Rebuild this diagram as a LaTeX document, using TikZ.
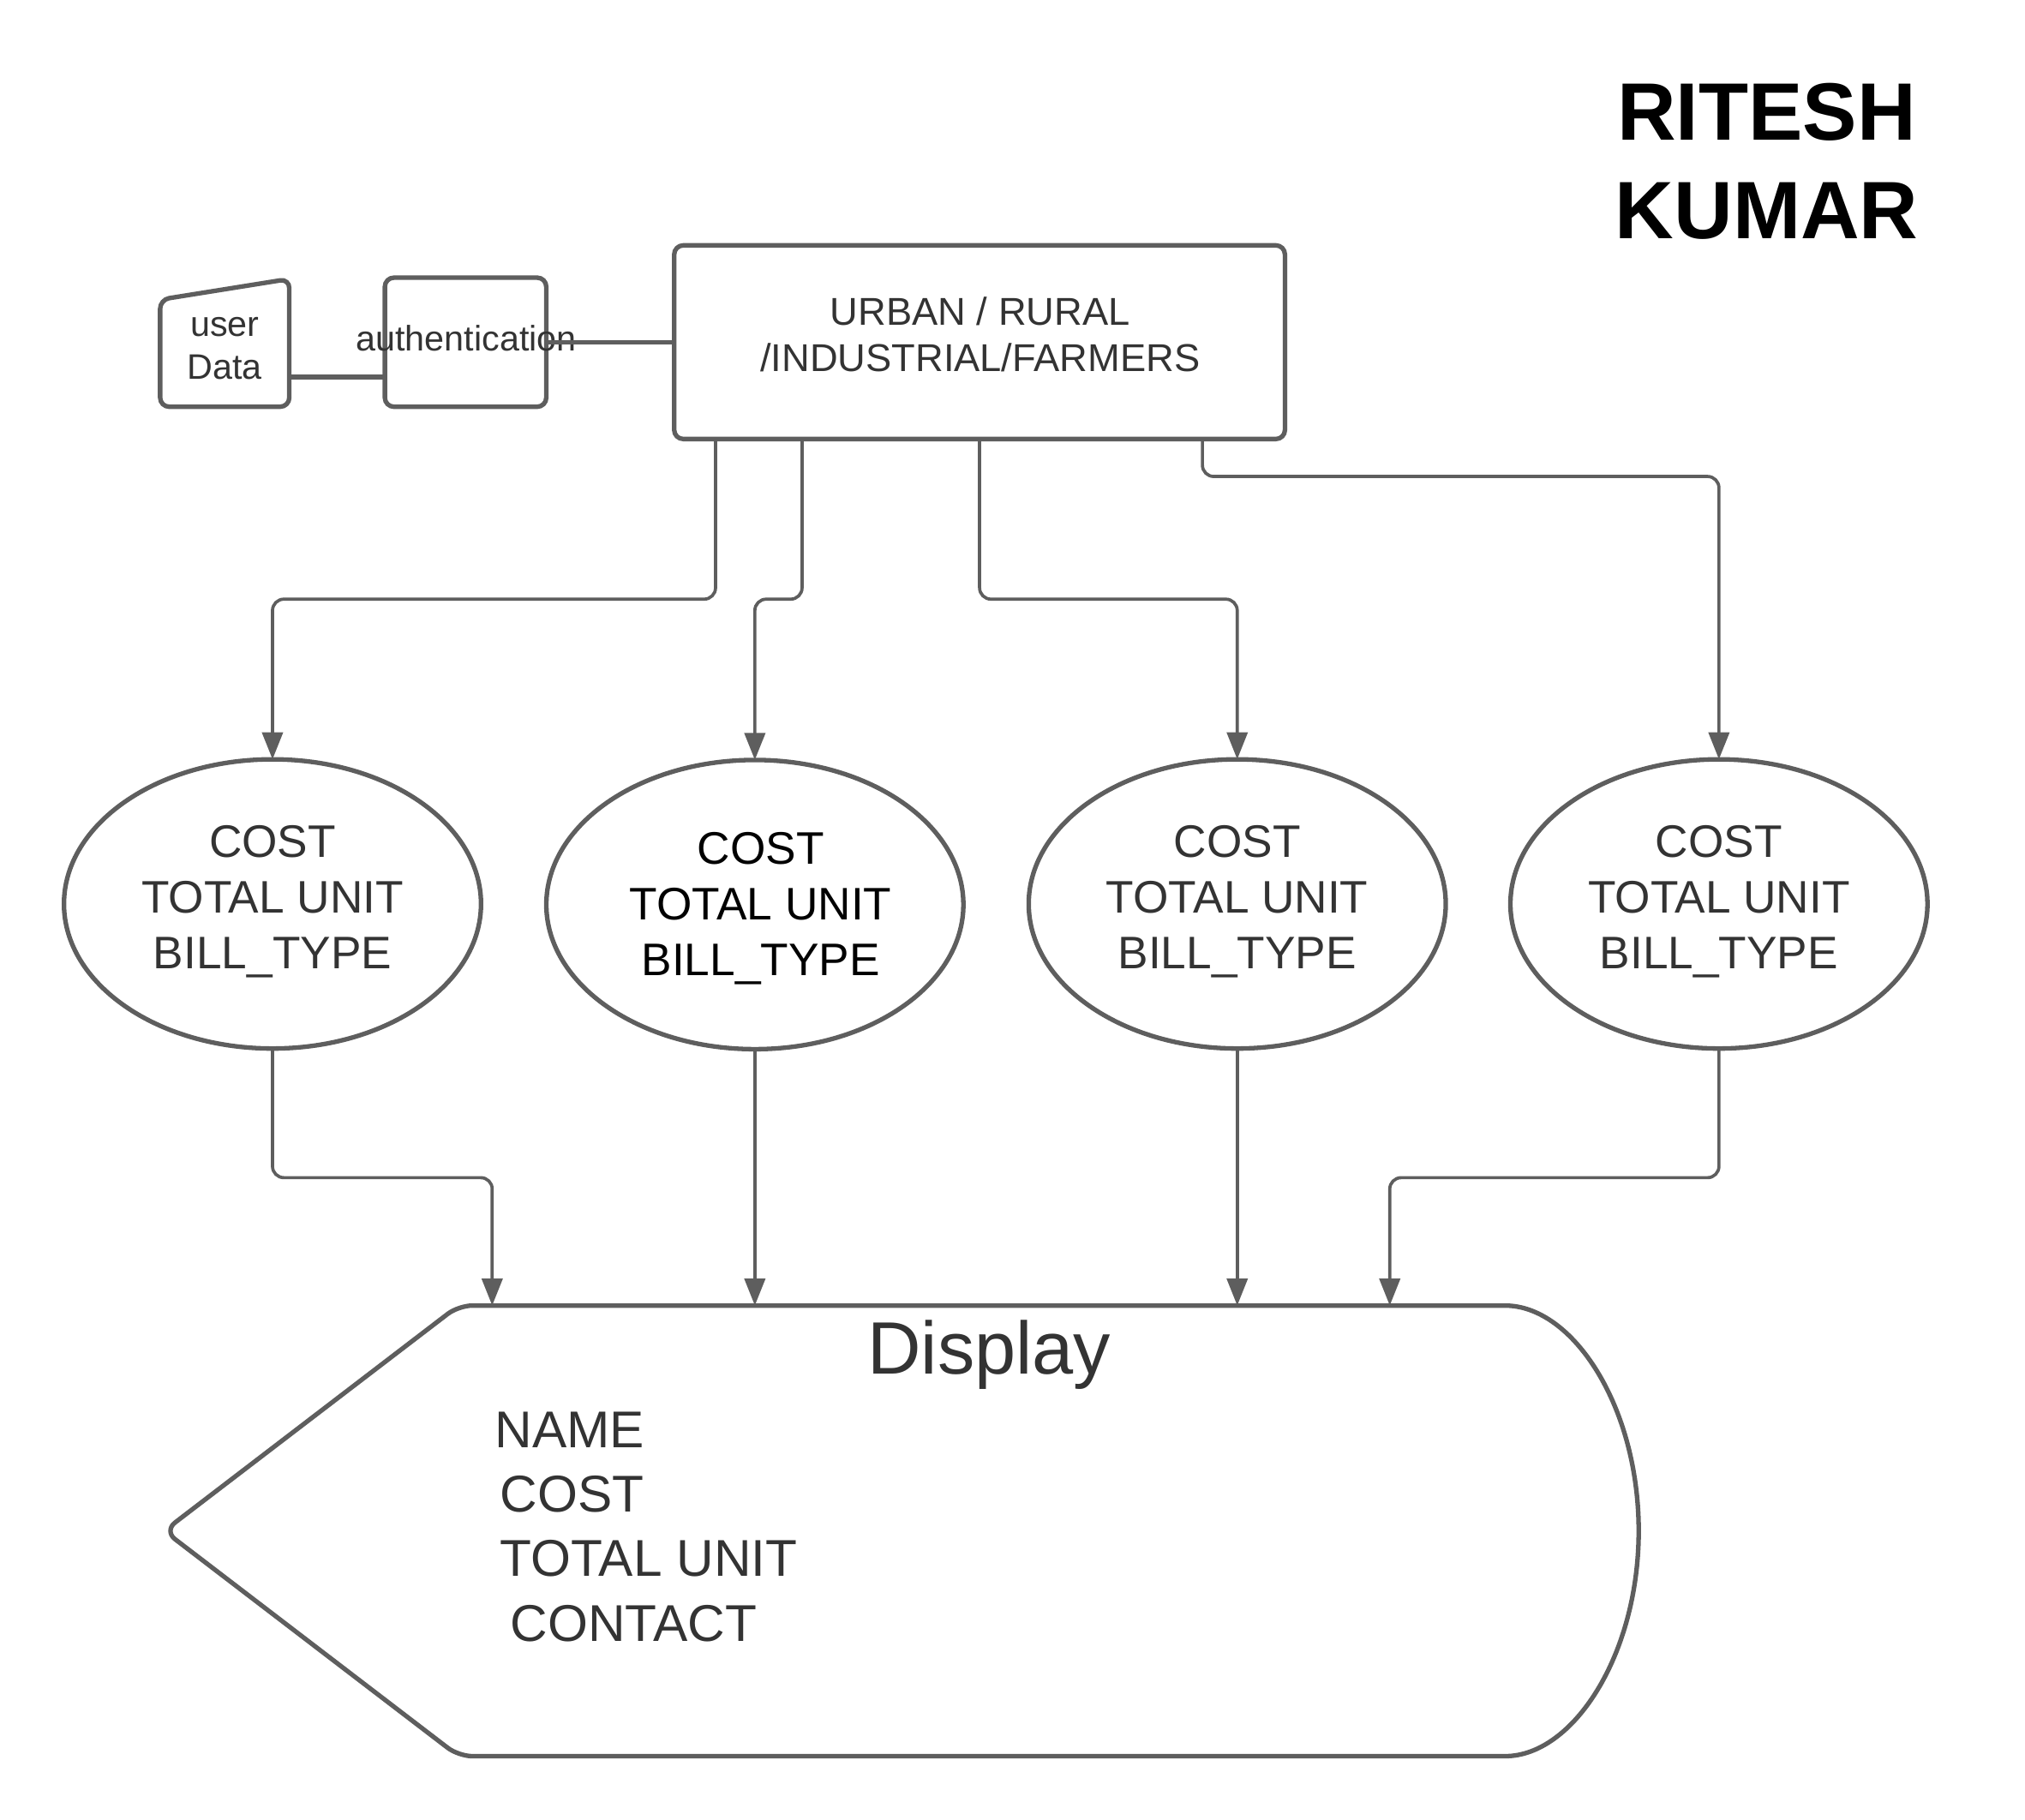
\documentclass[tikz,border=0pt]{standalone}
\usepackage{fontspec}
\setmainfont{Liberation Sans}
\usetikzlibrary{arrows.meta,calc,shapes.geometric}
\definecolor{lc}{HTML}{5E5E5E}
\definecolor{tc}{HTML}{333333}
\begin{document}
\begin{tikzpicture}[x=0.02cm,y=-0.02cm,
  shp/.style={draw=lc, line width=2pt, rounded corners=4pt},
  boxn/.style={draw=lc, line width=2pt, rounded corners=4pt, inner sep=0pt, outer sep=0pt},
  ghost/.style={inner sep=0pt, outer sep=0pt},
  conn/.style={draw=lc, line width=1.4pt, rounded corners=5pt, -{Triangle[length=0.42cm,width=0.32cm]}},
  link/.style={draw=lc, line width=2pt},
  txt/.style={text=tc, align=center, inner sep=0pt},
  ell/.style={ellipse, draw=lc, line width=2pt, minimum width=6.46cm, minimum height=4.48cm, inner sep=0pt, outer sep=0pt},
  etxt/.style={txt, font=\fontsize{20.1}{24.5}\selectfont},
  ltxt/.style={text=tc, inner sep=0pt, anchor=west, font=\fontsize{22.8}{28}\selectfont},
]
\useasboundingbox (0,0) rectangle (1568,1409);

% title
\node[inner sep=0pt, align=center, font=\bfseries\fontsize{35.9}{43.2}\selectfont] (title) at (1368,125) {RITESH\\KUMAR};

% user data
\node[ghost, minimum width=2cm, minimum height=1.98cm] (ud) at (174,265.5) {};
\draw[shp] (ud.south west) -- ($(ud.north west)+(0,16)$) -- (ud.north east) -- (ud.south east) -- cycle;
\node[txt, font=\fontsize{15.6}{18.8}\selectfont] (udtxt) at (174,270) {user\\Data};

% authentication
\node[boxn, minimum width=2.5cm, minimum height=2cm] (auth) at (360.5,265) {};
\node[txt, font=\fontsize{15.6}{18.8}\selectfont] (authtxt) at (361,262) {authentication};

% main box
\node[boxn, minimum width=9.46cm, minimum height=3cm] (main) at (758.5,265) {};
\node[txt, font=\fontsize{17.1}{20.5}\selectfont] (maintxt) at (759,259) {URBAN / RURAL\\/INDUSTRIAL/FARMERS};

\draw[link] ($(ud.east)+(0,26.5)$) coordinate (p1) -- (p1 -| auth.west);
\draw[link] (auth.east) -- (auth.east -| main.west);

% ellipses
\node[ell] (e1) at (211,700) {};
\node[ell] (e2) at (584.5,700.5) {};
\node[ell] (e3) at (958,700) {};
\node[ell] (e4) at (1331,700) {};
\node[etxt] (t1) at (211,698) {COST\\TOTAL UNIT\\BILL\_TYPE};
\node[etxt, text=black] (t2) at (589,703.5) {COST\\TOTAL UNIT\\BILL\_TYPE};
\node[etxt] (t3) at (958,698) {COST\\TOTAL UNIT\\BILL\_TYPE};
\node[etxt] (t4) at (1331,698) {COST\\TOTAL UNIT\\BILL\_TYPE};

\draw[conn] ($(main.south west)+(32,0)$) -- ++(0,124) -| (e1.north);
\draw[conn] ($(main.south west)+(99,0)$) -- ++(0,124) -| (e2.north);
\draw[conn] (main.south) -- ++(0,124) -| (e3.north);
\draw[conn] ($(main.south west)+(409,0)$) -- ++(0,29) -| (e4.north);

% display
\node[ghost, minimum width=22.84cm, minimum height=6.98cm] (disp) at (698,1185.5) {};
\draw[shp, rounded corners=6pt] (disp.west) -- ($(disp.north west)+(228,0)$) -- ($(disp.north east)+(-114,0)$) arc[start angle=90, end angle=-90, x radius=2.28cm, y radius=3.49cm] -- ($(disp.south west)+(228,0)$) -- cycle;
\node[txt, font=\fontsize{32.7}{39}\selectfont] (dtitle) at (766,1049) {Display};
\node[ltxt] (l1) at (383,1107) {NAME};
\node[ltxt] (l2) at (387,1157) {COST};
\node[ltxt] (l3) at (387,1207) {TOTAL UNIT};
\node[ltxt] (l4) at (395,1257) {CONTACT};

\draw[conn] (e1.south) -- ++(0,100) -| ($(disp.north west)+(254,0)$);
\draw[conn] (e2.south) -- (e2.south |- disp.north);
\draw[conn] (e3.south) -- (e3.south |- disp.north);
\draw[conn] (e4.south) -- ++(0,100) -| ($(disp.north west)+(949,0)$);
\end{tikzpicture}
\end{document}
